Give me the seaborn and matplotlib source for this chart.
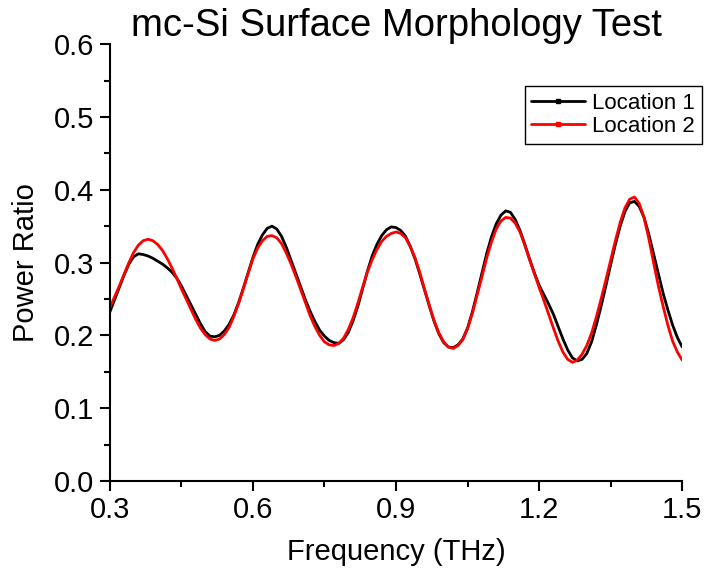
import numpy as np
import pandas as pd
import matplotlib
matplotlib.use("Agg")
import matplotlib.pyplot as plt
from matplotlib.lines import Line2D
from matplotlib.ticker import MultipleLocator, FormatStrFormatter
import seaborn as sns

# Frequency grid (THz), sampled every 0.01 THz from 0.30 to 1.50
freq = list(np.round(np.arange(30, 151) / 100.0, 2))

location1 = [
    0.232, 0.249, 0.266, 0.283, 0.298, 0.308, 0.312, 0.311, 0.309, 0.306,
    0.302, 0.298, 0.293, 0.287, 0.279, 0.268, 0.255, 0.242, 0.229, 0.216,
    0.205, 0.199, 0.198, 0.200, 0.206, 0.215, 0.228, 0.245, 0.265, 0.286,
    0.307, 0.325, 0.338, 0.347, 0.350, 0.346, 0.336, 0.321, 0.303, 0.285,
    0.267, 0.249, 0.233, 0.219, 0.207, 0.199, 0.193, 0.190, 0.189, 0.194,
    0.204, 0.220, 0.240, 0.264, 0.288, 0.309, 0.325, 0.337, 0.345, 0.349,
    0.348, 0.344, 0.336, 0.322, 0.305, 0.284, 0.262, 0.240, 0.219, 0.202,
    0.190, 0.184, 0.183, 0.187, 0.195, 0.210, 0.232, 0.258, 0.285, 0.312,
    0.335, 0.353, 0.365, 0.371, 0.369, 0.359, 0.344, 0.325, 0.305, 0.286,
    0.269, 0.256, 0.243, 0.229, 0.212, 0.195, 0.180, 0.169, 0.165, 0.167,
    0.175, 0.191, 0.214, 0.240, 0.268, 0.297, 0.325, 0.350, 0.370, 0.382,
    0.384, 0.377, 0.362, 0.339, 0.312, 0.285, 0.258, 0.235, 0.214, 0.197,
    0.184,
]

location2 = [
    0.238, 0.253, 0.268, 0.284, 0.300, 0.314, 0.324, 0.330, 0.332, 0.330,
    0.325, 0.317, 0.306, 0.293, 0.279, 0.264, 0.250, 0.236, 0.222, 0.210,
    0.201, 0.195, 0.193, 0.195, 0.201, 0.211, 0.226, 0.244, 0.264, 0.285,
    0.305, 0.320, 0.330, 0.336, 0.337, 0.334, 0.326, 0.313, 0.298, 0.281,
    0.263, 0.245, 0.227, 0.212, 0.200, 0.191, 0.187, 0.186, 0.189, 0.196,
    0.208, 0.224, 0.244, 0.266, 0.287, 0.304, 0.318, 0.329, 0.336, 0.340,
    0.342, 0.340, 0.334, 0.322, 0.306, 0.286, 0.263, 0.241, 0.220, 0.203,
    0.191, 0.184, 0.182, 0.186, 0.194, 0.209, 0.230, 0.255, 0.280, 0.306,
    0.328, 0.346, 0.357, 0.362, 0.361, 0.354, 0.342, 0.324, 0.304, 0.285,
    0.266, 0.248, 0.229, 0.210, 0.192, 0.177, 0.167, 0.163, 0.166, 0.174,
    0.186, 0.203, 0.225, 0.250, 0.276, 0.303, 0.330, 0.355, 0.375, 0.387,
    0.390, 0.381, 0.362, 0.333, 0.300, 0.268, 0.240, 0.214, 0.192, 0.177,
    0.166,
]

series_names = ["Location 1", "Location 2"]
colors = ["black", "red"]

df = pd.DataFrame({
    "Frequency": freq * 2,
    "Power Ratio": location1 + location2,
    "Location": [series_names[0]] * len(freq) + [series_names[1]] * len(freq),
})

sns.set_style("ticks")
plt.rcParams["font.family"] = ["Liberation Sans", "DejaVu Sans"]
plt.rcParams["text.color"] = "black"
plt.rcParams["axes.labelcolor"] = "black"
plt.rcParams["xtick.color"] = "black"
plt.rcParams["ytick.color"] = "black"

fig = plt.figure(figsize=(7.04, 5.73), dpi=100)
ax = fig.add_axes([0.156, 0.1606, 0.813, 0.7624])

sns.lineplot(data=df, x="Frequency", y="Power Ratio", hue="Location",
             palette=dict(zip(series_names, colors)), linewidth=2.0,
             legend=False, ax=ax, solid_joinstyle="round", sort=True)

ax.set_xlim(0.3, 1.5)
ax.set_ylim(0.0, 0.6)
ax.xaxis.set_major_locator(MultipleLocator(0.3))
ax.xaxis.set_minor_locator(MultipleLocator(0.15))
ax.yaxis.set_major_locator(MultipleLocator(0.1))
ax.yaxis.set_minor_locator(MultipleLocator(0.05))
ax.xaxis.set_major_formatter(FormatStrFormatter("%.1f"))
ax.yaxis.set_major_formatter(FormatStrFormatter("%.1f"))

for s in ["top", "right"]:
    ax.spines[s].set_visible(False)
for s in ["left", "bottom"]:
    ax.spines[s].set_linewidth(1.5)
    ax.spines[s].set_color("black")

ax.tick_params(which="major", direction="out", length=7, width=1.5,
               labelsize=21, colors="black", labelcolor="black", pad=4)
ax.tick_params(which="minor", direction="out", length=4, width=1.5, colors="black")

ax.set_xlabel("Frequency (THz)", fontsize=21, labelpad=10, color="black")
ax.set_ylabel("Power Ratio", fontsize=21, labelpad=10, color="black")
ax.set_title("mc-Si Surface Morphology Test", fontsize=27.5, pad=4, color="black")

handles = [Line2D([0], [0], color=c, lw=2, marker="s", markersize=3)
           for c in colors]
leg = fig.legend(handles, series_names, loc="upper right",
                 bbox_to_anchor=(0.997, 1 - 86 / 573), fontsize=16,
                 frameon=True, fancybox=False, framealpha=1,
                 edgecolor="black", handlelength=2.4, handletextpad=0.35,
                 borderpad=0.3, labelspacing=0.1, borderaxespad=0)
leg.get_frame().set_linewidth(1.0)
for t in leg.get_texts():
    t.set_color("black")

fig.savefig("out.png", dpi=100)
